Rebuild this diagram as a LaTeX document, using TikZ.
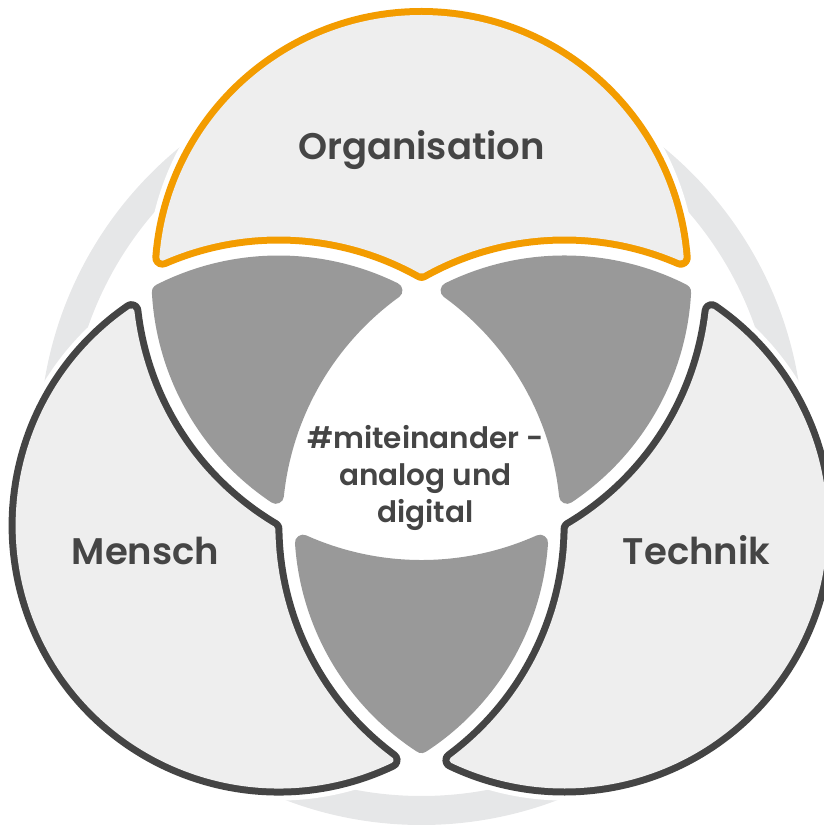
\documentclass[tikz,border=0pt]{standalone}
\usepackage{fontspec}
\setmainfont{Poppins}[BoldFont={Poppins SemiBold}]
\definecolor{shapefill}{HTML}{EEEEEE}
\definecolor{ringgray}{HTML}{E6E7E8}
\definecolor{petalgray}{HTML}{999999}
\definecolor{darkline}{HTML}{444444}
\definecolor{orgorange}{HTML}{F39C00}
\definecolor{textgray}{HTML}{454545}
\tikzset{
  orgp/.style={insert path={(0,165) ++(175.51:260) arc[start angle=175.51,end angle=4.49,radius=260] arc[start angle=66.53,end angle=119.30,radius=292] arc[start angle=60.70,end angle=113.47,radius=292] -- cycle}},
  petp/.style={insert path={(-142.89,-82.5) ++(116.94:262) arc[start angle=116.94,end angle=63.76,radius=262] arc[start angle=125.87,end angle=174.12,radius=290] arc[start angle=236.24,end angle=183.05,radius=262] -- cycle}},
  halo/.style={draw=white, fill=white, line width=30pt, line join=round},
  outband/.style={fill=#1, draw=#1, line width=20pt, line join=round},
  infill/.style={fill=shapefill, draw=shapefill, line width=6pt, line join=round},
  petal/.style={fill=petalgray, draw=petalgray, line width=16pt, line join=round},
  lbl/.style={font=\bfseries\fontsize{37}{44}\selectfont, text=textgray, inner sep=0pt},
  ctr/.style={font=\bfseries\fontsize{29.5}{35}\selectfont, text=textgray, inner sep=0pt}
}
\begin{document}
\begin{tikzpicture}[x=1pt,y=1pt]
\useasboundingbox (0,0) rectangle (823,828);
\coordinate (G) at (421.5,385);
% background ring
\fill[ringgray, even odd rule] (G) circle[radius=382] (G) circle[radius=353];
% white halos
\foreach \a in {0,120,240}{
  \begin{scope}[shift={(G)}, rotate=\a]
    \path[halo, orgp];
  \end{scope}
}
% Organisation (top)
\begin{scope}[shift={(G)}, rotate=0]
  \path[outband=orgorange, orgp];
  \path[infill, orgp];
  \path[petal, petp];
\end{scope}
% Mensch (left)
\begin{scope}[shift={(G)}, rotate=120]
  \path[outband=darkline, orgp];
  \path[infill, orgp];
  \path[petal, petp];
\end{scope}
% Technik (right)
\begin{scope}[shift={(G)}, rotate=240]
  \path[outband=darkline, orgp];
  \path[infill, orgp];
  \path[petal, petp];
\end{scope}
% labels
\node[lbl, anchor=base] (org) at (421.5,668) {Organisation};
\node[lbl, anchor=base] (mensch) at (145.5,263) {Mensch};
\node[lbl, anchor=base] (technik) at (696.5,263) {Technik};
\node[ctr, anchor=base] (c1) at (425.5,379) {\#miteinander -};
\node[ctr, anchor=base] (c2) at (425.5,342) {analog und};
\node[ctr, anchor=base] (c3) at (425.5,305) {digital};
\end{tikzpicture}
\end{document}
